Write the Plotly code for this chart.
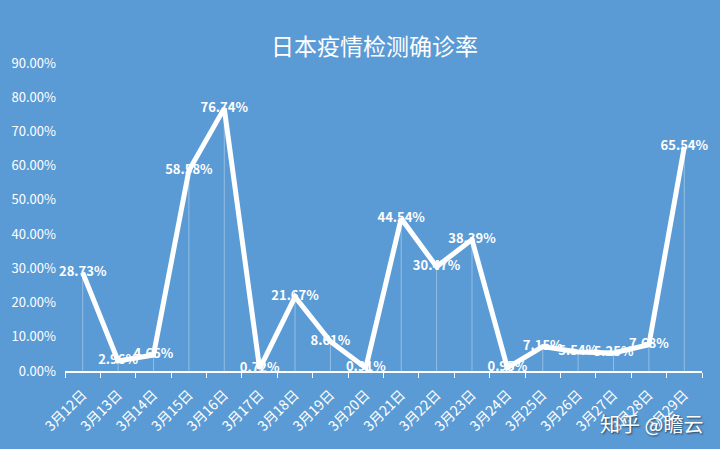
import plotly.graph_objects as go

dates = ["3月12日", "3月13日", "3月14日", "3月15日", "3月16日", "3月17日",
         "3月18日", "3月19日", "3月20日", "3月21日", "3月22日", "3月23日",
         "3月24日", "3月25日", "3月26日", "3月27日", "3月28日", "3月29日"]
rate = [0.2873, 0.0296, 0.0465, 0.5858, 0.7674, 0.0072,
        0.2167, 0.0861, 0.0091, 0.4454, 0.3047, 0.3839,
        0.0095, 0.0715, 0.0554, 0.0525, 0.0768, 0.6554]
y_ticks = [0, 0.1, 0.2, 0.3, 0.4, 0.5, 0.6, 0.7, 0.8, 0.9]

bg = "#5b9bd5"
font_cn = "Noto Sans CJK SC"

fig = go.Figure()

# thin drop lines from each point to the axis
fig.add_trace(go.Scatter(
    x=dates, y=rate, mode="markers",
    marker=dict(size=1, color="rgba(0,0,0,0)"),
    error_y=dict(type="data", symmetric=False, array=[0] * len(rate),
                 arrayminus=rate, width=0, thickness=1,
                 color="rgba(255,255,255,0.35)"),
    hoverinfo="skip", showlegend=False,
))

fig.add_trace(go.Scatter(
    x=dates, y=rate, mode="lines+text",
    line=dict(color="white", width=5),
    text=[f"{v*100:.2f}%" for v in rate],
    textposition="middle center",
    textfont=dict(color="white", size=13, family=font_cn, weight="bold"),
    cliponaxis=False,
    showlegend=False,
))

fig.update_layout(
    width=720, height=449,
    paper_bgcolor=bg, plot_bgcolor=bg,
    margin=dict(l=65, r=18, t=63, b=78),
    title=dict(text="日本疫情检测确诊率", x=0.52, y=0.895, xanchor="center",
               yanchor="middle",
               font=dict(color="white", size=23, family=font_cn)),
    xaxis=dict(
        type="category", showgrid=False, showline=True, linecolor="white",
        linewidth=2, ticks="outside", tickson="boundaries", tickcolor="white",
        ticklen=5, tickwidth=1, tickangle=-45, ticklabelstandoff=8,
        tickfont=dict(color="white", size=14, family=font_cn),
        range=[-0.5, len(dates) - 0.5],
    ),
    yaxis=dict(
        range=[0, 0.9], tickvals=y_ticks, tickformat=".2%",
        showgrid=False, zeroline=False, showline=False,
        ticklabelstandoff=8,
        tickfont=dict(color="white", size=13, family=font_cn),
    ),
    annotations=[dict(
        text="知乎 @瞻云", xref="paper", yref="paper", x=1.005, y=-0.17,
        xanchor="right", yanchor="middle", showarrow=False,
        font=dict(color="white", size=20, family=font_cn,
                  shadow="1px 1px 2px rgba(0,0,0,0.6)"),
    )],
)

fig.write_html("out.html", config={"displayModeBar": False},
               post_script="document.body.style.margin='0';")
